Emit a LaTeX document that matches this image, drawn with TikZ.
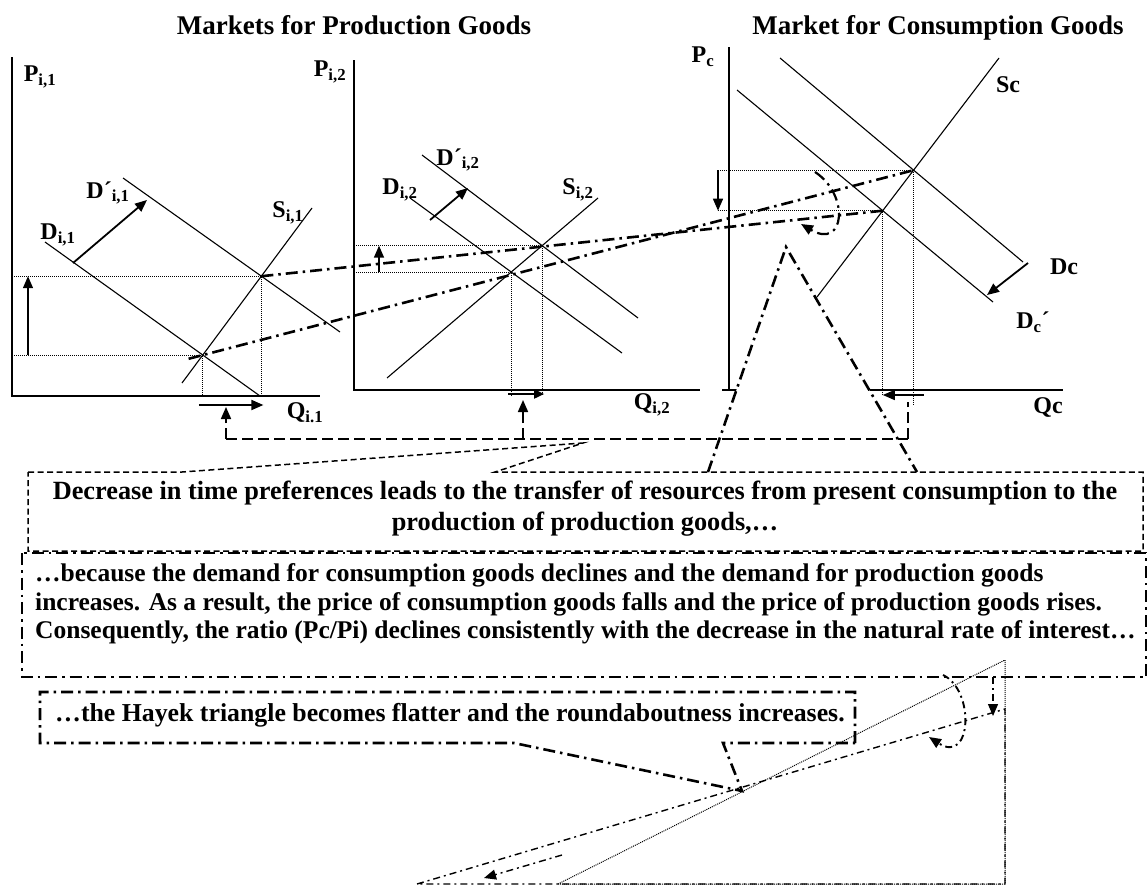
\documentclass[tikz,border=0pt]{standalone}
\usepackage{fontspec}
\setmainfont{Liberation Serif}
\usetikzlibrary{arrows.meta, calc}

\begin{document}
\begin{tikzpicture}[
    x=1pt, y=-1pt,
    axisline/.style={line width=1.4pt},
    curve/.style={line width=1.1pt},
    guide/.style={line width=1pt, dash pattern=on 1pt off 1pt},
    ratioline/.style={line width=2.6pt, dash pattern=on 12pt off 5pt on 2.5pt off 5pt},
    thinratio/.style={line width=1.4pt, dash pattern=on 7pt off 4pt on 2pt off 4pt},
    tip/.style={-{Triangle[length=12pt,width=10pt]}},
    shiftarrow/.style={line width=1.8pt, tip},
    linkdash/.style={line width=1.7pt, dash pattern=on 11pt off 5pt},
    boxdash/.style={line width=1.5pt, dash pattern=on 6pt off 3.5pt},
    lbl/.style={font=\fontsize{24}{26}\selectfont\bfseries, inner sep=0pt},
    ttl/.style={font=\fontsize{27}{30}\selectfont\bfseries, inner sep=0pt, anchor=base},
    txt/.style={font=\fontsize{25.5}{28.5}\selectfont\bfseries, inner sep=0pt}
]
\useasboundingbox (0,0) rectangle (1148,886);

% Titles
\node[ttl] (ttlprod) at (354,34) {Markets for Production Goods};
\node[ttl] (ttlcons) at (938,34) {Market for Consumption Goods};

% Market 1 for production goods
\coordinate (t1) at (12,57);
\coordinate (o1) at (12,396);
\coordinate (r1) at (320,396);
\coordinate (u1) at (28,0);
\coordinate (d1a) at (45,242);   \coordinate (d1b) at (260,396);
\coordinate (d1pa) at (123,178); \coordinate (d1pb) at (340,332);
\coordinate (s1a) at (182,383);  \coordinate (s1b) at (312,208);
\coordinate (e1o) at (intersection of d1a--d1b and s1a--s1b);
\coordinate (e1n) at (intersection of d1pa--d1pb and s1a--s1b);
\draw[axisline] (t1) -- (o1) -- (r1);
\draw[curve] (d1a) -- (d1b);
\draw[curve] (d1pa) -- (d1pb);
\draw[curve] (s1a) -- (s1b);
\draw[guide] (e1o -| o1) -- (e1o) -- (e1o |- o1);
\draw[guide] (e1n -| o1) -- (e1n) -- (e1n |- o1);
\draw[shiftarrow, line width=1.4pt] (e1o -| u1) -- (e1n -| u1);
\draw[shiftarrow] (73,263) -- (147,200);
\draw[shiftarrow] ($(e1o |- o1)+(-4,9)$) -- ($(e1n |- o1)+(2,9)$);
\node[lbl] (pi1) at (40,77) {P\textsubscript{i,1}};
\node[lbl] (di1) at (58,235) {D\textsubscript{i,1}};
\node[lbl] (dpi1) at (108,193) {D´\textsubscript{i,1}};
\node[lbl] (si1) at (288,213) {S\textsubscript{i,1}};
\node[lbl] (qi1) at (305,413) {Q\textsubscript{i.1}};

% Market 2 for production goods
\coordinate (t2) at (354,60);
\coordinate (o2) at (354,390);
\coordinate (r2) at (700,390);
\coordinate (u2) at (379,0);
\coordinate (d2a) at (410,198);  \coordinate (d2b) at (622,353);
\coordinate (d2pa) at (422,155); \coordinate (d2pb) at (638,318);
\coordinate (s2a) at (387,378);  \coordinate (s2b) at (598,198);
\coordinate (e2o) at (intersection of d2a--d2b and s2a--s2b);
\coordinate (e2n) at (intersection of d2pa--d2pb and s2a--s2b);
\draw[axisline] (t2) -- (o2) -- (r2);
\draw[curve] (d2a) -- (d2b);
\draw[curve] (d2pa) -- (d2pb);
\draw[curve] (s2a) -- (s2b);
\draw[guide] (e2o -| o2) -- (e2o) -- ($(e2o |- o2)+(0,5)$);
\draw[guide] (e2n -| o2) -- (e2n) -- ($(e2n |- o2)+(0,5)$);
\draw[shiftarrow, line width=1.4pt] (e2o -| u2) -- (e2n -| u2);
\draw[shiftarrow] (430,220) -- (468,188);
\draw[shiftarrow, -{Triangle[length=10pt,width=9pt]}] ($(e2o |- o2)+(-3,4)$) -- ($(e2n |- o2)+(2,4)$);
\node[lbl] (pi2) at (330,72) {P\textsubscript{i,2}};
\node[lbl] (di2) at (400,190) {D\textsubscript{i,2}};
\node[lbl] (dpi2) at (458,160) {D´\textsubscript{i,2}};
\node[lbl] (si2) at (578,190) {S\textsubscript{i,2}};
\node[lbl] (qi2) at (652,405) {Q\textsubscript{i,2}};

% Market for consumption goods
\coordinate (tc) at (729,47);
\coordinate (oc) at (729,390);
\coordinate (lc) at (722,390);
\coordinate (rc) at (1063,390);
\coordinate (uc) at (718,0);
\coordinate (dca) at (780,58);   \coordinate (dcb) at (1023,262);
\coordinate (dcpa) at (737,90);  \coordinate (dcpb) at (993,302);
\coordinate (sca) at (817,297);  \coordinate (scb) at (999,58);
\coordinate (eco) at (intersection of dca--dcb and sca--scb);
\coordinate (ecn) at (intersection of dcpa--dcpb and sca--scb);
\draw[axisline] (tc) -- (oc);
\draw[axisline] (lc) -- (rc);
\draw[curve] (dca) -- (dcb);
\draw[curve] (dcpa) -- (dcpb);
\draw[curve] (sca) -- (scb);
\draw[guide] (eco -| uc) -- (eco) -- ($(eco |- oc)+(0,15)$);
\draw[guide] (ecn -| uc) -- (ecn) -- ($(ecn |- oc)+(0,5)$);
\draw[shiftarrow, line width=1.4pt] (eco -| uc) -- (ecn -| uc);
\draw[shiftarrow] (1028,263) -- (987,295);
\draw[shiftarrow, line width=1.4pt] ($(eco |- oc)+(10,5)$) -- ($(ecn |- oc)+(0,5)$);
\node[lbl] (pc) at (703,57) {P\textsubscript{c}};
\node[lbl] (sc) at (1008,85) {Sc};
\node[lbl] (dc) at (1064,267) {Dc};
\node[lbl] (dcp) at (1033,322) {D\textsubscript{c}´};
\node[lbl] (qc) at (1048,407) {Qc};

% Price ratio lines and their rotation
\draw[ratioline] ($(e1o)!-0.02!(eco)$) -- (eco);
\draw[ratioline] (e1n) -- (ecn);
\coordinate (rota) at (815,172);
\coordinate (rotb) at (801,224);
\draw[ratioline, line width=2.2pt, tip] (rota) .. controls (850,195) and (845,250) .. (rotb);

% Callout towards the consumption market
\filldraw[ratioline, fill=white] (708,472) -- (786,247) -- (917,472);

% Links between the quantity changes
\coordinate (lk1) at (226,439);
\coordinate (lk2) at (523,439);
\coordinate (lk3) at (908,439);
\draw[linkdash] (lk1) -- (lk3);
\draw[linkdash, tip] (lk1) -- (226,407);
\draw[linkdash, tip] (lk2) -- (523,400);
\draw[linkdash] (lk3) -- (908,402);

% Text boxes
\draw[boxdash] (28,472) -- (182,472) -- (583,443) -- (495,472) -- (1143,472)
    -- (1143,551) -- (28,551) -- cycle;
\node[txt, font=\fontsize{26.3}{31}\selectfont\bfseries, align=center] (boxa) at (585,509)
    {Decrease in time preferences leads to the transfer of resources from present consumption to the\\
     production of production goods,…};
\draw[ratioline] (22,553) rectangle (1146,677);
\node[txt, align=left, anchor=west] (boxb) at (35,604)
    {…because the demand for consumption goods declines and the demand for production goods\\
     increases. As a result, the price of consumption goods falls and the price of production goods rises.\\
     Consequently, the ratio (Pc/Pi) declines consistently with the decrease in the natural rate of interest…};
\coordinate (hvertex) at (742,791);
\draw[ratioline] (855,743) -- (855,692) -- (40,692) -- (40,743) -- (514,743)
    -- (hvertex) -- (723,743) -- cycle;
\node[txt, font=\fontsize{25.8}{28.5}\selectfont\bfseries, anchor=west] (boxc) at (55,715)
    {…the Hayek triangle becomes flatter and the roundaboutness increases.};

% Hayek triangles
\coordinate (hapex) at (1005,660);
\coordinate (hapexn) at (1005,709);
\coordinate (hcorner) at (1005,884);
\coordinate (hold) at (558,884);
\coordinate (hnew) at (417,884);
\draw[guide] (hold) -- (hapex) -- (hcorner) -- cycle;
\draw[thinratio] (hnew) -- (hapexn) -- (hcorner) -- cycle;
\draw[thinratio, tip] (993,677) -- (993,716);
\draw[thinratio, line width=1.9pt, tip] (943,675) .. controls (975,690) and (972,765) .. (929,737);
\draw[thinratio, tip] (562,855) -- (484,878);

\end{tikzpicture}
\end{document}
